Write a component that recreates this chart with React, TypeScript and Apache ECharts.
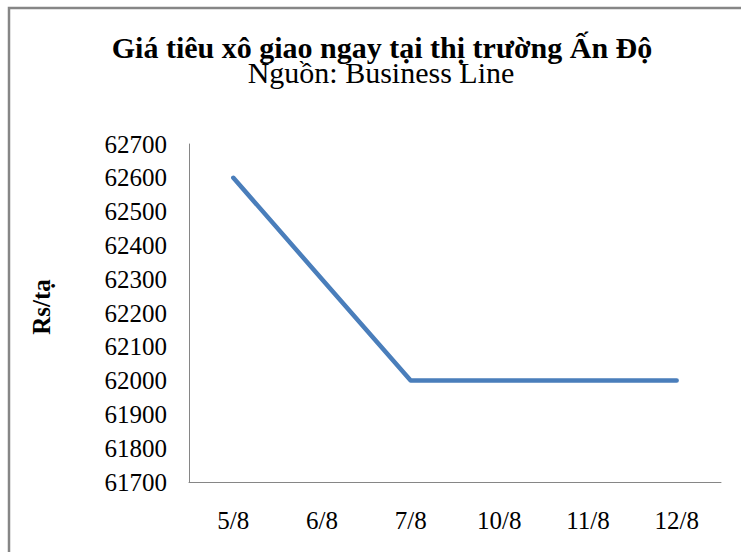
import React, { useEffect, useRef } from "react";
import * as echarts from "echarts";

const categories = ["5/8", "6/8", "7/8", "10/8", "11/8", "12/8"];
const prices = [62600, 62300, 62000, 62000, 62000, 62000];
const yMin = 61700;
const yMax = 62700;
const yStep = 100;
const titleText = "Giá tiêu xô giao ngay tại thị trường Ấn Độ";
const subtitleText = "Nguồn: Business Line";
const yAxisTitle = "Rs/tạ";

const FONT = "Liberation Serif";

export default function App() {
  const ref = useRef<HTMLDivElement>(null);
  useEffect(() => {
    if (!ref.current) return;
    const chart = echarts.init(ref.current, null, { renderer: "svg" });
    chart.setOption({
      animation: false,
      backgroundColor: "#ffffff",
      textStyle: { fontFamily: FONT },
      grid: { left: 189, right: 20, top: 144, bottom: 70, containLabel: false },
      xAxis: {
        type: "category",
        data: categories,
        boundaryGap: true,
        axisLine: { show: true, lineStyle: { color: "#868686", width: 1 } },
        axisTick: { show: false },
        axisLabel: { color: "#000", fontSize: 25, fontFamily: FONT, margin: 26 },
        splitLine: { show: false },
      },
      yAxis: {
        type: "value",
        min: yMin,
        max: yMax,
        interval: yStep,
        axisLine: { show: true, lineStyle: { color: "#868686", width: 1 } },
        axisTick: { show: false },
        axisLabel: {
          color: "#000",
          fontSize: 25,
          fontFamily: FONT,
          margin: 22,
          formatter: (v: number) => String(v),
        },
        splitLine: { show: false },
      },
      series: [
        {
          type: "line",
          data: prices,
          symbol: "none",
          lineStyle: { color: "#4a7ebb", width: 4.5, cap: "round", join: "round" },
        },
      ],
      graphic: [
        {
          type: "rect",
          shape: { x: 9, y: 8, width: 900, height: 700 },
          style: { fill: "none", stroke: "#868686", lineWidth: 2.5 },
          silent: true,
        },
        {
          type: "text",
          x: 382,
          y: 47,
          style: {
            text: titleText,
            fontFamily: FONT,
            fontSize: 30,
            fontWeight: "bold",
            lineHeight: 24,
            fill: "#000",
            align: "center",
            verticalAlign: "middle",
          },
        },
        {
          type: "text",
          x: 381,
          y: 72,
          style: {
            text: subtitleText,
            fontFamily: FONT,
            fontSize: 30,
            fontWeight: "normal",
            lineHeight: 24,
            fill: "#000",
            align: "center",
            verticalAlign: "middle",
          },
        },
        {
          type: "text",
          x: 41,
          y: 307,
          rotation: Math.PI / 2,
          style: {
            text: yAxisTitle,
            fontFamily: FONT,
            fontSize: 25,
            fontWeight: "bold",
            fill: "#000",
            align: "center",
            verticalAlign: "middle",
          },
        },
      ],
    });
    return () => chart.dispose();
  }, []);
  return (
    <div
      ref={ref}
      style={{ position: "absolute", left: 0, top: 0, width: 741, height: 552, background: "#fff" }}
    />
  );
}
